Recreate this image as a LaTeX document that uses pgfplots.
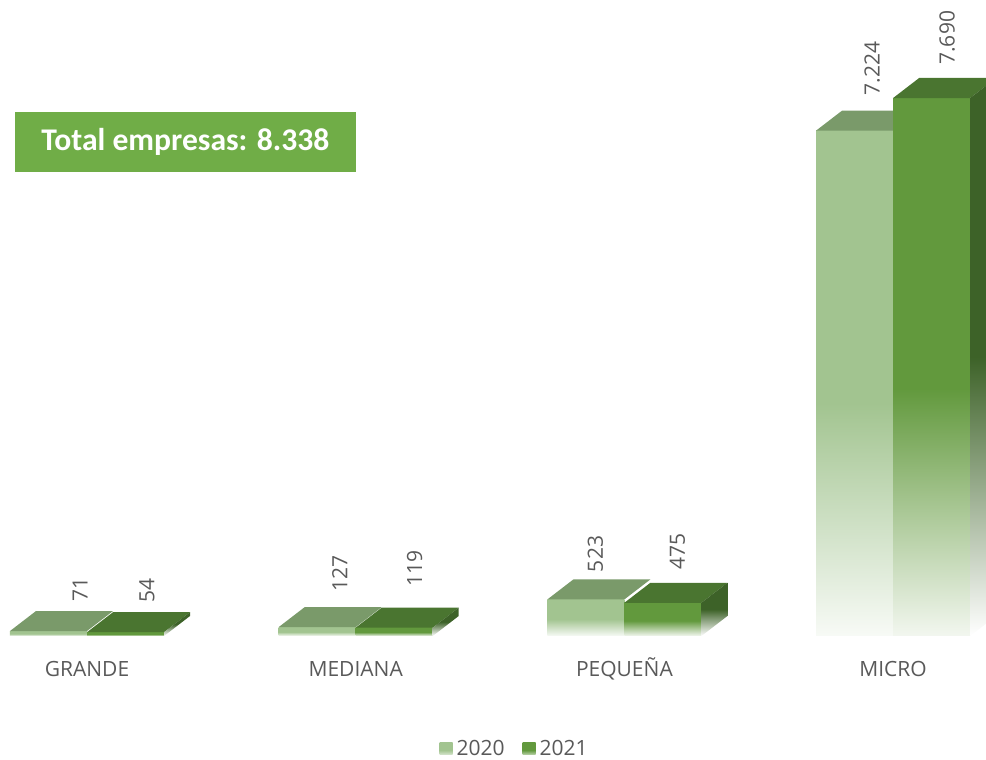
\documentclass[border=0pt]{standalone}
\usepackage{pgfplots}
\pgfplotsset{compat=1.18}
\usepackage{fontspec}
\setmainfont{Open Sans}
\newfontfamily\boxfont{Carlito}
\definecolor{c20}{HTML}{A2C490}
\definecolor{c21}{HTML}{62993D}
\definecolor{t20}{HTML}{7A9A6A}
\definecolor{t21}{HTML}{4A7530}
\definecolor{s21}{HTML}{3D6228}
\definecolor{boxg}{HTML}{70AD47}
\definecolor{txt}{HTML}{595959}
\pgfdeclareverticalshading{f20}{100bp}{color(0bp)=(white); color(25bp)=(white!92!c20); color(48bp)=(c20); color(100bp)=(c20)}
\pgfdeclareverticalshading{f21}{100bp}{color(0bp)=(white); color(25bp)=(white!92!c21); color(48bp)=(c21); color(100bp)=(c21)}
\pgfdeclareverticalshading{l20}{100bp}{color(0bp)=(white); color(25bp)=(white!60!c20); color(45bp)=(c20); color(100bp)=(c20)}
\pgfdeclareverticalshading{l21}{100bp}{color(0bp)=(white); color(25bp)=(white!60!c21); color(45bp)=(c21); color(100bp)=(c21)}
\pgfdeclareverticalshading{fs21}{100bp}{color(0bp)=(white); color(25bp)=(white); color(50bp)=(s21); color(100bp)=(s21)}
\pgfplotsset{
  f2020/.style={ybar, bar width=0.2866, bar shift=-0.1433, draw=none, shade, shading=f20},
  f2021/.style={ybar, bar width=0.2866, bar shift=0.1433, draw=none, shade, shading=f21},
  lab/.style 2 args={every node near coord/.append style={xshift=#1pt, yshift=#2pt, rotate=90, anchor=west,
    inner sep=0pt, font=\fontsize{10.5}{12}\selectfont, text=txt}},
  noval/.style={nodes near coords=, forget plot, draw=none},
}
\begin{document}
\begin{tikzpicture}
\begin{axis}[
  scale only axis, width=493pt, height=380pt,
  xmin=-0.3238, xmax=3.3457, ymin=-1772.5, ymax=9091,
  hide axis,
  legend style={at={(0.523,0.0145)}, anchor=center, draw=none, fill=none,
    legend columns=2, font=\fontsize{10.5}{12}\selectfont\color{txt},
    /tikz/every even column/.append style={column sep=7pt}},
  nodes near coords={\pgfmathprintnumber[assume math mode=true,1000 sep={.}]{\pgfplotspointmeta}},
]
% ---- 2020 front faces (one plot per bar, so that each bar is shaded on its own)
\addplot[f2020, lab={-3.5}{14.5},
  legend image code/.code={\path[shade,shading=l20] (0pt,-3pt) rectangle (6.5pt,3pt);}]
  coordinates {(0,71)};
\addlegendentry{2020}
\addplot[f2020, lab={-8}{17.5}, forget plot] coordinates {(1,127)};
\addplot[f2020, lab={-14.5}{13.5}, forget plot] coordinates {(2,523)};
\addplot[f2020, lab={-10.5}{17.5}, forget plot] coordinates {(3,7224)};
% 2020 top faces
\addplot[fill=t20, noval] coordinates {(-0.2866,71) (0,71) (0.0968,357) (-0.1898,357)};
\addplot[fill=t20, noval] coordinates {(0.7134,127) (1,127) (1.0968,413) (0.8102,413)};
\addplot[fill=t20, noval] coordinates {(1.7134,523) (2,523) (2.0968,809) (1.8102,809)};
\addplot[fill=t20, noval] coordinates {(2.7134,7224) (3,7224) (3.0968,7510) (2.8102,7510)};
% ---- 2021 front faces
\addplot[f2021, lab={30}{14.5},
  legend image code/.code={\path[shade,shading=l21] (0pt,-3pt) rectangle (6.5pt,3pt);}]
  coordinates {(0,54)};
\addlegendentry{2021}
\addplot[f2021, lab={29.5}{20.5}, forget plot] coordinates {(1,119)};
\addplot[f2021, lab={26.5}{16.5}, forget plot] coordinates {(2,475)};
\addplot[f2021, lab={27}{16.5}, forget plot] coordinates {(3,7690)};
% 2021 top faces
\addplot[fill=t21, noval] coordinates {(0,54) (0.2866,54) (0.3834,340) (0.0968,340)};
\addplot[fill=t21, noval] coordinates {(1,119) (1.2866,119) (1.3834,405) (1.0968,405)};
\addplot[fill=t21, noval] coordinates {(2,475) (2.2866,475) (2.3834,761) (2.0968,761)};
\addplot[fill=t21, noval] coordinates {(3,7690) (3.2866,7690) (3.3834,7976) (3.0968,7976)};
% 2021 side faces
\addplot[shade, shading=fs21, noval] coordinates {(0.2866,0) (0.2866,54) (0.3834,340) (0.3834,286)};
\addplot[shade, shading=fs21, noval] coordinates {(1.2866,0) (1.2866,119) (1.3834,405) (1.3834,286)};
\addplot[shade, shading=fs21, noval] coordinates {(2.2866,0) (2.2866,475) (2.3834,761) (2.3834,286)};
\addplot[shade, shading=fs21, noval] coordinates {(3.2866,0) (3.2866,7690) (3.3834,7976) (3.3834,286)};
% category labels
\node[font=\fontsize{10.5}{12}\selectfont, text=txt] at (axis cs:0,-472) {GRANDE};
\node[font=\fontsize{10.5}{12}\selectfont, text=txt] at (axis cs:1,-472) {MEDIANA};
\node[font=\fontsize{10.5}{12}\selectfont, text=txt] at (axis cs:2,-472) {PEQUEÑA};
\node[font=\fontsize{10.5}{12}\selectfont, text=txt] at (axis cs:3,-472) {MICRO};
% total box
\node[fill=boxg, minimum width=170.5pt, minimum height=30pt, inner sep=0pt, text=white,
  font=\boxfont\bfseries\fontsize{15.8}{18}\selectfont] at (rel axis cs:0.1881,0.8132) {Total empresas: 8.338};
\end{axis}
\pgfresetboundingbox
\path (current axis.south west) rectangle (current axis.north east);
\end{tikzpicture}
\end{document}
